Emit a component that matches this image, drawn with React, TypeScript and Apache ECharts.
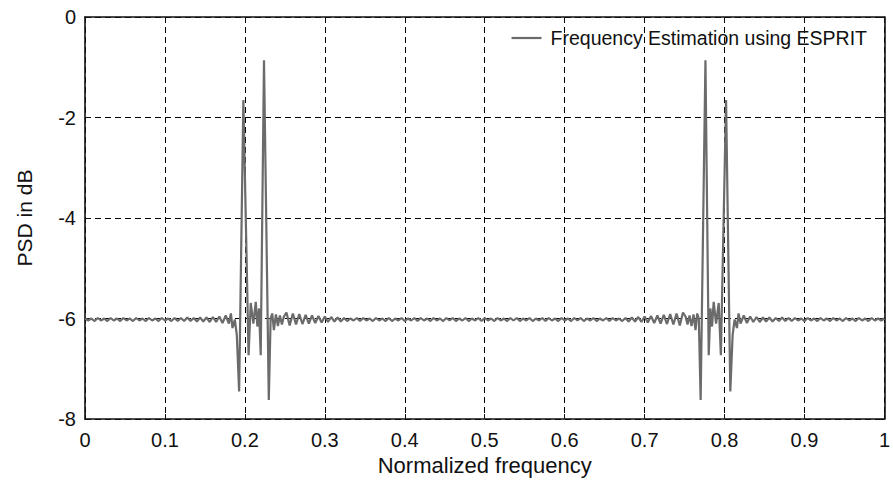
import React, { useEffect, useRef } from "react";
import * as echarts from "echarts";

// Frequency sampling grid step for the flat (uniform) bands
const bandStep = 0.004;
const lowBandStart = 0.0;
const midBandStart = 0.252;
const highBandStart = 0.824;

// PSD (dB) on 0 .. 0.176
const psdLowBand = [
  -6.0, -6.04, -6.0, -6.05, -5.99, -6.04, -6.0, -6.05, -5.99, -6.04,
  -6.0, -6.05, -5.99, -6.04, -6.0, -6.05, -5.99, -6.04, -6.0, -6.05,
  -5.99, -6.04, -6.0, -6.05, -5.99, -6.04, -6.0, -6.05, -5.99, -6.05,
  -5.99, -6.05, -5.98, -6.05, -5.99, -6.06, -5.98, -6.06, -5.98, -6.07,
  -5.97, -6.07, -5.96, -6.09, -5.94,
];

// First peak pair (non-uniform read positions)
const freqPeak1 = [
  0.18, 0.1825, 0.1845, 0.1874, 0.1899, 0.1928, 0.1981, 0.2046, 0.2073, 0.2106,
  0.2136, 0.2156, 0.2177, 0.2198, 0.2239, 0.2299, 0.2322, 0.2342, 0.2363, 0.2388,
  0.2413, 0.2438, 0.2463, 0.2488,
];
const psdPeak1 = [
  -6.1, -5.9, -6.19, -6.02, -6.33, -7.45, -1.65, -6.73, -5.69, -6.1,
  -5.67, -6.16, -5.8, -6.73, -0.86, -7.62, -6.0, -5.9, -6.23, -5.92,
  -6.15, -5.94, -6.12, -5.96,
];

// PSD on 0.252 .. 0.748
const psdMidBand = [
  -5.88, -6.14, -5.9, -6.12, -5.91, -6.11, -5.93, -6.1, -5.94, -6.09,
  -5.95, -6.08, -5.96, -6.07, -5.97, -6.06, -5.98, -6.06,
  -5.99, -6.05, -6.0, -6.04, -5.99, -6.05, -5.99, -6.04, -6.0, -6.05,
  -5.99, -6.04, -6.0, -6.05, -5.99, -6.05, -6.0, -6.04, -5.99, -6.05,
  -6.0, -6.04, -5.99, -6.05, -5.99, -6.04, -6.0, -6.05, -5.99, -6.04,
  -6.0, -6.05, -5.99, -6.04, -5.99, -6.05, -6.0, -6.04, -5.99, -6.05,
  -6.0, -6.04, -5.99, -6.05, -5.99, -6.04, -6.0, -6.05, -5.99, -6.04,
  -6.0, -6.05, -5.99, -6.04, -5.99, -6.05, -6.0, -6.04, -5.99, -6.05,
  -6.0, -6.04, -5.99, -6.05, -5.99, -6.04, -6.0, -6.05, -5.99, -6.04,
  -6.0, -6.05, -5.99, -6.04, -5.99, -6.05, -6.0, -6.04, -5.99, -6.05,
  -6.0, -6.04, -5.99, -6.05, -5.99, -6.04, -6.0, -6.05, -5.99,
  -6.06, -5.98, -6.06, -5.97, -6.07, -5.96, -6.08, -5.95, -6.09, -5.94,
  -6.1, -5.93, -6.11, -5.91, -6.12, -5.9, -6.14, -5.88,
];

// Second peak pair
const freqPeak2 = [
  0.7512, 0.7537, 0.7562, 0.7587, 0.7612, 0.7637, 0.7658, 0.7678, 0.7701, 0.7761,
  0.7802, 0.7823, 0.7844, 0.7864, 0.7894, 0.7927, 0.7954, 0.8019, 0.8072, 0.8101,
  0.8126, 0.8155, 0.8175, 0.82,
];
const psdPeak2 = [
  -5.96, -6.12, -5.94, -6.15, -5.92, -6.23, -5.9, -6.0, -7.62, -0.86,
  -6.73, -5.8, -6.16, -5.67, -6.1, -5.69, -6.73, -1.65, -7.45, -6.33,
  -6.02, -6.19, -5.9, -6.1,
];

// PSD on 0.824 .. 1.0
const psdHighBand = [
  -5.94, -6.09, -5.96, -6.07, -5.97, -6.07, -5.98, -6.06, -5.98, -6.06,
  -5.99, -6.05, -5.98, -6.05, -5.99, -6.05, -5.99, -6.04, -6.0, -6.05,
  -5.99, -6.04, -6.0, -6.05, -5.99, -6.04, -6.0, -6.05, -5.99, -6.04,
  -6.0, -6.05, -5.99, -6.04, -6.0, -6.05, -5.99, -6.04, -6.0, -6.05,
  -5.99, -6.04, -6.0, -6.04, -6.0,
];

const xTickLabels = ["0", "0.1", "0.2", "0.3", "0.4", "0.5", "0.6", "0.7", "0.8", "0.9", "1"];
const yTickLabels = ["-8", "-6", "-4", "-2", "0"];
const seriesName = "Frequency Estimation using ESPRIT";

function band(start: number, values: number[]): [number, number][] {
  return values.map((v, i) => [+(start + i * bandStep).toFixed(4), v]);
}
function pairs(f: number[], v: number[]): [number, number][] {
  return f.map((x, i) => [x, v[i]]);
}

const FONT = "'Liberation Sans', Arial, Helvetica, sans-serif";

export default function App() {
  const ref = useRef<HTMLDivElement>(null);
  useEffect(() => {
    if (!ref.current) return;
    const chart = echarts.init(ref.current, undefined, { renderer: "svg" });
    const data = [
      ...band(lowBandStart, psdLowBand),
      ...pairs(freqPeak1, psdPeak1),
      ...band(midBandStart, psdMidBand),
      ...pairs(freqPeak2, psdPeak2),
      ...band(highBandStart, psdHighBand),
    ];
    const gridLine = { show: true, lineStyle: { color: "#000", type: [6, 4] as any, width: 1 } };
    chart.setOption({
      animation: false,
      backgroundColor: "#fff",
      textStyle: { fontFamily: FONT },
      grid: { left: 85, right: 4, top: 17, bottom: 64, show: false },
      legend: {
        show: true,
        right: 21,
        top: 23,
        itemWidth: 30,
        itemHeight: 14,
        itemGap: 9,
        icon: "path://M0,6 L30,6 L30,8.2 L0,8.2 Z",
        textStyle: { fontFamily: FONT, fontSize: 19.5, color: "#111", padding: [0, 0, 0, 4] },
        data: [seriesName],
      },
      xAxis: [
        {
          type: "value",
          min: 0,
          max: 1,
          interval: 0.1,
          position: "bottom",
          name: "Normalized frequency",
          nameLocation: "middle",
          nameGap: 35,
          nameTextStyle: { fontFamily: FONT, fontSize: 22, color: "#111" },
          axisLine: { show: true, onZero: false, lineStyle: { color: "#111", width: 1.6 } },
          axisTick: { show: true, inside: true, length: 5, lineStyle: { color: "#111" } },
          axisLabel: {
            fontFamily: FONT,
            fontSize: 20,
            color: "#111",
            margin: 11,
            formatter: (v: number) => xTickLabels[Math.round(v * 10)] ?? "",
          },
          splitLine: gridLine,
        },
        {
          type: "value",
          min: 0,
          max: 1,
          interval: 0.1,
          position: "top",
          axisLine: { show: true, onZero: false, lineStyle: { color: "#111", width: 1.6 } },
          axisTick: { show: true, inside: true, length: 5, lineStyle: { color: "#111" } },
          axisLabel: { show: false },
          splitLine: { show: false },
        },
      ],
      yAxis: [
        {
          type: "value",
          min: -8,
          max: 0,
          interval: 2,
          position: "left",
          name: "PSD in dB",
          nameLocation: "middle",
          nameGap: 50,
          nameTextStyle: { fontFamily: FONT, fontSize: 21, color: "#111" },
          axisLine: { show: true, onZero: false, lineStyle: { color: "#111", width: 1.6 } },
          axisTick: { show: true, inside: true, length: 5, lineStyle: { color: "#111" } },
          axisLabel: {
            fontFamily: FONT,
            fontSize: 20,
            color: "#111",
            margin: 9,
            formatter: (v: number) => yTickLabels[Math.round((v + 8) / 2)] ?? "",
          },
          splitLine: gridLine,
        },
        {
          type: "value",
          min: -8,
          max: 0,
          interval: 2,
          position: "right",
          axisLine: { show: true, onZero: false, lineStyle: { color: "#111", width: 1.6 } },
          axisTick: { show: true, inside: true, length: 5, lineStyle: { color: "#111" } },
          axisLabel: { show: false },
          splitLine: { show: false },
        },
      ],
      series: [
        {
          name: seriesName,
          type: "line",
          xAxisIndex: 0,
          yAxisIndex: 0,
          showSymbol: false,
          symbol: "none",
          data,
          color: "#6b6b6b",
          lineStyle: { color: "#6b6b6b", width: 2.2 },
        },
      ],
    });
    return () => chart.dispose();
  }, []);
  return (
    <div
      ref={ref}
      style={{ position: "absolute", left: 0, top: 0, width: 893, height: 483, background: "#fff" }}
    />
  );
}
